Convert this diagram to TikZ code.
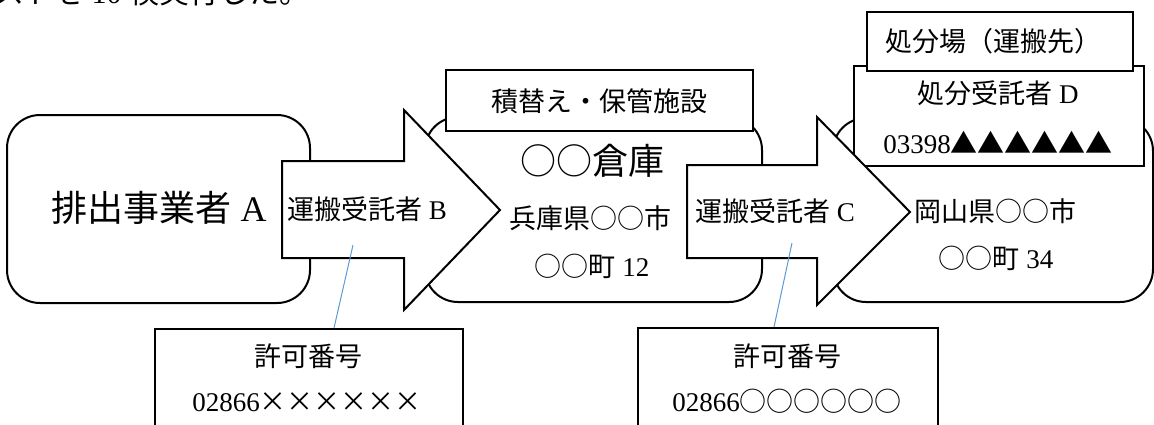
\documentclass[tikz,border=0pt]{standalone}
\usepackage{fontspec}
\setmainfont{Liberation Serif}
\newfontfamily\jp{Noto Sans CJK JP}
\newcommand{\fsL}{\fontsize{36}{40}\selectfont}
\newcommand{\fsM}{\fontsize{27}{31}\selectfont}
\begin{document}
\begin{tikzpicture}[x=1pt,y=-1pt,
  rbox/.style={draw=black, line width=2pt, fill=white, rounded corners=33pt, inner sep=0pt},
  sbox/.style={draw=black, line width=2pt, fill=white, inner sep=0pt},
  arrowshape/.style={draw=black, line width=2pt, fill=white, line join=miter},
  txt/.style={inner sep=0pt, font=\fsM},
  bigtxt/.style={inner sep=0pt, font=\fsL},
  lead/.style={draw={rgb,255:red,91;green,155;blue,213}, line width=1pt}]
\useasboundingbox (0,0) rectangle (1154,424);
\begin{scope}
\clip (0,0) rectangle (1154,424);
% top fragment of running text
\node[inner sep=0pt, anchor=base west, font=\fontsize{30}{34}\selectfont] (frag) at (-6,3) {{\jp ストを}~10~{\jp 検実行した。}};

% emitter A
\node[rbox, minimum width=303pt, minimum height=188pt] (A) at (158.5,209) {};
% warehouse
\node[rbox, minimum width=337pt, minimum height=185pt] (W) at (593.5,209.5) {};
\node[sbox, minimum width=307pt, minimum height=61pt] (Wlab) at (599.5,100.5) {};
% arrow B
\draw[arrowshape] (282,161) -- (404,161) -- (404,110) -- (500,210) -- (404,310) -- (404,258) -- (282,258) -- cycle;
% disposal D
\node[rbox, minimum width=320pt, minimum height=184pt] (D) at (993,210) {};
\node[sbox, minimum width=290pt, minimum height=100pt] (Dlab) at (999,116) {};
\node[sbox, minimum width=266pt, minimum height=59pt] (Dtop) at (1000,41.5) {};
% arrow C
\draw[arrowshape] (687,165) -- (817,165) -- (817,117) -- (910,212) -- (817,305) -- (817,258) -- (687,258) -- cycle;

% permit boxes
\node[sbox, minimum width=308pt, minimum height=120pt] (PB) at (309,389) {};
\node[sbox, minimum width=300pt, minimum height=120pt] (PC) at (788,388) {};

% texts
\node[bigtxt] (tA) at (159,208) {{\jp 排出事業者}~A};
\node[txt] (tB) at (367,209) {{\jp 運搬受託者}~B};
\node[txt] (tWlab) at (599,101) {\jp 積替え・保管施設};
\node[bigtxt] (tW1) at (592,161) {\jp ○○倉庫};
\node[txt] (tW2) at (590,218) {\jp 兵庫県○○市};
\node[txt] (tW3) at (592,266) {{\jp ○○町}~12};
\node[txt] (tC) at (775,211) {{\jp 運搬受託者}~C};
\node[txt] (tDtop) at (993,41) {\jp 処分場（運搬先）};
\node[txt] (tD1) at (998,93) {{\jp 処分受託者}~D};
\node[txt] (tD2) at (998,142) {03398{\jp ▲▲▲▲▲▲}};
\node[txt] (tD3) at (995,211) {\jp 岡山県○○市};
\node[txt] (tD4) at (996,258) {{\jp ○○町}~34};
\node[txt] (tPB1) at (308,356) {\jp 許可番号};
\node[txt] (tPB2) at (307,402) {02866{\jp ××××××}};
\node[txt] (tPC1) at (787,356) {\jp 許可番号};
\node[txt] (tPC2) at (787,401) {02866{\jp ○○○○○○}};

% leader lines
\coordinate (bB) at (353,245);
\coordinate (bC) at (792,243);
\draw[lead] (bB) -- (PB.north -| 334,0);
\draw[lead] (bC) -- (PC.north -| 774,0);
\end{scope}
\end{tikzpicture}
\end{document}
